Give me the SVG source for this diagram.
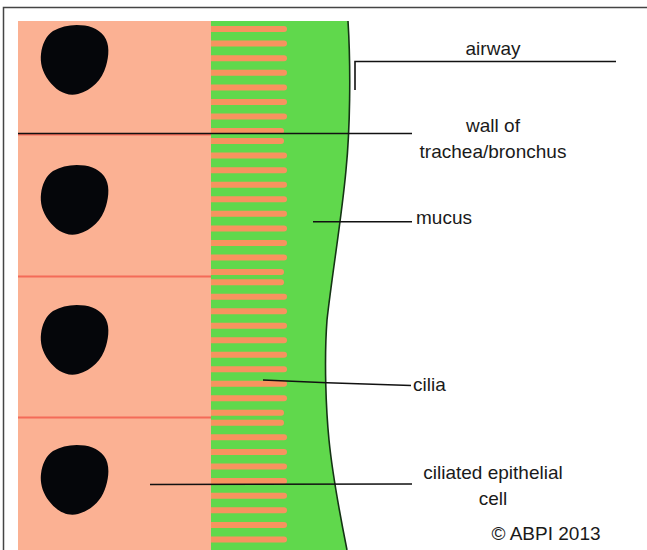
<svg xmlns="http://www.w3.org/2000/svg" width="647" height="550" viewBox="0 0 647 550">
  <defs>
    <style>
      .label { font-family: "Liberation Sans", Arial, sans-serif; font-size: 19px; fill: #1a1a1a; }
      .mid { text-anchor: middle; }
      .lead { stroke: #111; stroke-width: 1.6; fill: none; }
      .cilium { stroke: #f7935f; stroke-width: 6; stroke-linecap: round; }
      .cilium-short { stroke: #f7935f; stroke-width: 6; stroke-linecap: round; }
      .nucleus { fill: #05060a; }
      .membrane { stroke: #f46b58; stroke-width: 2.2; }
    </style>
    <!-- nucleus outline, drawn at the first cell and shifted for the others -->
    <path id="nucleusShape" d="M76.7,25 C88,25 98,28 104,36 C110,44 109,56 106,66 C102,80 92,90 78,94 C66,97 56,90 49,81 C42,72 40,62 41,54 C42,44 46,36 53,31 C60,27 68,25 76.7,25 Z"/>
  </defs>

  <rect x="0" y="0" width="647" height="550" fill="#ffffff"/>

  <!-- mucus layer bounded by the airway surface -->
  <g id="mucus">
    <path d="M211,21 L348,21 C351,70 350,130 346,170 C342,215 332,275 327,320 C324,360 326,410 329,440 C333,480 340,515 347,550 L211,550 Z" fill="#60d84c"/>
    <path d="M348,21 C351,70 350,130 346,170 C342,215 332,275 327,320 C324,360 326,410 329,440 C333,480 340,515 347,550" fill="none" stroke="#143314" stroke-width="1.6"/>
  </g>

  <!-- cilia -->
  <g id="cilia">
    <!-- cell 1 -->
    <line class="cilium" x1="211" y1="29" x2="284" y2="29"/>
    <line class="cilium" x1="211" y1="43.6" x2="284" y2="43.6"/>
    <line class="cilium" x1="211" y1="58.2" x2="284" y2="58.2"/>
    <line class="cilium" x1="211" y1="72.8" x2="284" y2="72.8"/>
    <line class="cilium" x1="211" y1="87.4" x2="284" y2="87.4"/>
    <line class="cilium" x1="211" y1="102" x2="284" y2="102"/>
    <line class="cilium" x1="211" y1="116.6" x2="284" y2="116.6"/>
    <line class="cilium" x1="211" y1="131" x2="281" y2="131"/>
    <!-- cell 2 -->
    <line class="cilium" x1="211" y1="141" x2="281" y2="141"/>
    <line class="cilium" x1="211" y1="155.6" x2="284" y2="155.6"/>
    <line class="cilium" x1="211" y1="170.2" x2="284" y2="170.2"/>
    <line class="cilium" x1="211" y1="184.7" x2="284" y2="184.7"/>
    <line class="cilium" x1="211" y1="199.3" x2="284" y2="199.3"/>
    <line class="cilium" x1="211" y1="213.8" x2="284" y2="213.8"/>
    <line class="cilium" x1="211" y1="228.4" x2="284" y2="228.4"/>
    <line class="cilium" x1="211" y1="242.9" x2="284" y2="242.9"/>
    <line class="cilium" x1="211" y1="257.5" x2="284" y2="257.5"/>
    <line class="cilium" x1="211" y1="272" x2="281" y2="272"/>
    <!-- cell 3 -->
    <line class="cilium" x1="211" y1="282.3" x2="281" y2="282.3"/>
    <line class="cilium" x1="211" y1="296.8" x2="284" y2="296.8"/>
    <line class="cilium" x1="211" y1="311.3" x2="284" y2="311.3"/>
    <line class="cilium" x1="211" y1="325.8" x2="284" y2="325.8"/>
    <line class="cilium" x1="211" y1="340.3" x2="284" y2="340.3"/>
    <line class="cilium" x1="211" y1="354.8" x2="284" y2="354.8"/>
    <line class="cilium" x1="211" y1="369.3" x2="284" y2="369.3"/>
    <line class="cilium" x1="211" y1="383.8" x2="284" y2="383.8"/>
    <line class="cilium" x1="211" y1="398.3" x2="284" y2="398.3"/>
    <line class="cilium" x1="211" y1="412.8" x2="281" y2="412.8"/>
    <!-- cell 4 -->
    <line class="cilium" x1="211" y1="422.7" x2="281" y2="422.7"/>
    <line class="cilium" x1="211" y1="437.3" x2="284" y2="437.3"/>
    <line class="cilium" x1="211" y1="451.9" x2="284" y2="451.9"/>
    <line class="cilium" x1="211" y1="466.5" x2="284" y2="466.5"/>
    <line class="cilium" x1="211" y1="481.1" x2="284" y2="481.1"/>
    <line class="cilium" x1="211" y1="495.7" x2="284" y2="495.7"/>
    <line class="cilium" x1="211" y1="510.3" x2="284" y2="510.3"/>
    <line class="cilium" x1="211" y1="524.9" x2="284" y2="524.9"/>
    <line class="cilium" x1="211" y1="539.5" x2="284" y2="539.5"/>
  </g>

  <!-- epithelial cells -->
  <g id="cells">
    <rect x="18" y="21" width="193" height="529" fill="#fbb193"/>
    <line class="membrane" x1="18" y1="134.5" x2="211" y2="134.5"/>
    <line class="membrane" x1="18" y1="276.5" x2="211" y2="276.5"/>
    <line class="membrane" x1="18" y1="417.5" x2="211" y2="417.5"/>
  </g>

  <g id="nucleus-1"><use href="#nucleusShape" class="nucleus"/></g>
  <g id="nucleus-2"><use href="#nucleusShape" class="nucleus" transform="translate(0,140)"/></g>
  <g id="nucleus-3"><use href="#nucleusShape" class="nucleus" transform="translate(0,280)"/></g>
  <g id="nucleus-4"><use href="#nucleusShape" class="nucleus" transform="translate(0,420)"/></g>

  <!-- leader lines -->
  <g id="connectors">
    <polyline class="lead" points="355,90 355,61.5 616,61.5"/>
    <line class="lead" x1="18" y1="133.5" x2="412" y2="133.5"/>
    <line class="lead" x1="313" y1="221.7" x2="412" y2="221.7"/>
    <path class="lead" d="M263,380 L327,382.7 L411,385.5"/>
    <line class="lead" x1="150" y1="484.5" x2="412" y2="484"/>
  </g>

  <!-- labels -->
  <g id="labels">
    <text class="label mid" x="493" y="55">airway</text>
    <text class="label mid" x="493" y="132">wall of</text>
    <text class="label mid" x="493" y="158">trachea/bronchus</text>
    <text class="label" x="416" y="224">mucus</text>
    <text class="label" x="413" y="391">cilia</text>
    <text class="label mid" x="493" y="479">ciliated epithelial</text>
    <text class="label mid" x="493" y="505">cell</text>
    <text class="label mid" x="546" y="540">© ABPI 2013</text>
  </g>

  <!-- frame -->
  <g id="frame">
    <polyline points="3.5,550 3.5,7.5 647,7.5" fill="none" stroke="#444" stroke-width="1.5"/>
  </g>
</svg>
